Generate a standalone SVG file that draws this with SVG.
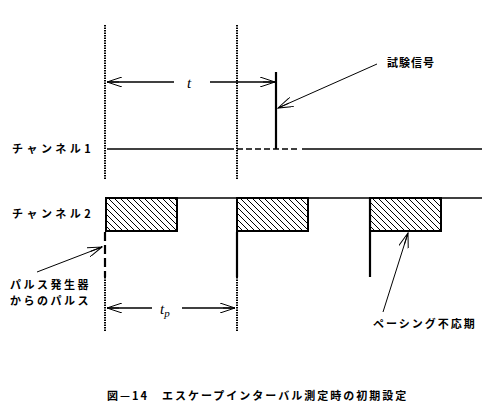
<svg xmlns="http://www.w3.org/2000/svg" width="488" height="409" viewBox="0 0 488 409">
<style>
.jp{font-family:"Noto Sans CJK JP","Noto Sans",sans-serif;font-size:11px;font-weight:bold;fill:#000}
.it{font-family:"Liberation Serif",serif;font-style:italic;font-size:15px;fill:#000}
.dot{stroke:#000;stroke-width:2;stroke-dasharray:1.5 1;fill:none}
.ln{stroke:#000;stroke-width:1.3;fill:none}
.thick{stroke:#000;stroke-width:2.2;fill:none}
.thin{stroke:#000;stroke-width:1;fill:none}
.hatch{fill:url(#h);stroke:#000;stroke-width:2}
</style>
<defs>
<pattern id="h" width="6" height="6" patternUnits="userSpaceOnUse">
<path d="M0,0 L6,6 M-3,3 L3,9 M3,-3 L9,3" stroke="#000" stroke-width="1"/>
</pattern>
<marker id="a" markerWidth="16" markerHeight="10" refX="15" refY="5" orient="auto" markerUnits="userSpaceOnUse">
<path d="M0,0 L15,5 L0,10 M15,5 L3,5" fill="none" stroke="#000" stroke-width="1"/>
</marker>
</defs>
<rect width="488" height="409" fill="#fff"/>
<g id="connectors">
<line class="dot" x1="105" y1="25" x2="105" y2="179"/>
<line class="dot" x1="237" y1="25" x2="237" y2="179"/>
<line class="dot" x1="105" y1="277" x2="105" y2="332"/>
<line class="dot" x1="237" y1="277" x2="237" y2="332"/>
<line class="ln" x1="174" y1="82" x2="107" y2="82" marker-end="url(#a)"/>
<line class="ln" x1="210" y1="82" x2="275" y2="82" marker-end="url(#a)"/>
<path class="ln" d="M107,149 H228"/>
<path class="ln" d="M228,149 H300" stroke-dasharray="6 3"/>
<path class="ln" d="M302,149 H482"/>
<line class="thick" x1="276" y1="72" x2="276" y2="149"/>
<line class="thin" x1="377" y1="64" x2="278" y2="108" marker-end="url(#a)"/>
<path class="ln" d="M106,198 H482"/>
<line class="thick" x1="105" y1="232" x2="105" y2="277" stroke-dasharray="9 4"/>
<line class="thick" x1="237" y1="232" x2="237" y2="277"/>
<line class="thick" x1="370" y1="198" x2="370" y2="277"/>
<line class="thin" x1="37" y1="272" x2="102" y2="247" marker-end="url(#a)"/>
<line class="ln" x1="152" y1="308" x2="107" y2="308" marker-end="url(#a)"/>
<line class="ln" x1="182" y1="308" x2="235" y2="308" marker-end="url(#a)"/>
<line class="thin" x1="383" y1="312" x2="408" y2="233" marker-end="url(#a)"/>
</g>
<g id="pulse1"><rect class="hatch" x="106" y="198" width="71" height="33"/></g>
<g id="pulse2"><rect class="hatch" x="237" y="198" width="71" height="33"/></g>
<g id="pulse3"><rect class="hatch" x="370" y="198" width="71" height="33"/></g>
<g id="labels">
<text class="it" x="187" y="88">t</text>
<text class="it" x="160" y="314">t<tspan font-size="11" dy="3">p</tspan></text>
<text class="jp" x="387" y="67" font-size="12" letter-spacing="1">試験信号</text>
<text class="jp" x="12" y="153" letter-spacing="3.5">チャンネル1</text>
<text class="jp" x="12" y="218" letter-spacing="3.5">チャンネル2</text>
<text class="jp" x="10" y="289" letter-spacing="2.5">パルス発生器</text>
<text class="jp" x="10" y="305" letter-spacing="2.5">からのパルス</text>
<text class="jp" x="373" y="328" letter-spacing="2">ペーシング不応期</text>
<text class="jp" x="107" y="400" font-size="12" letter-spacing="2">図—14　エスケープインターバル測定時の初期設定</text>
</g>
</svg>
